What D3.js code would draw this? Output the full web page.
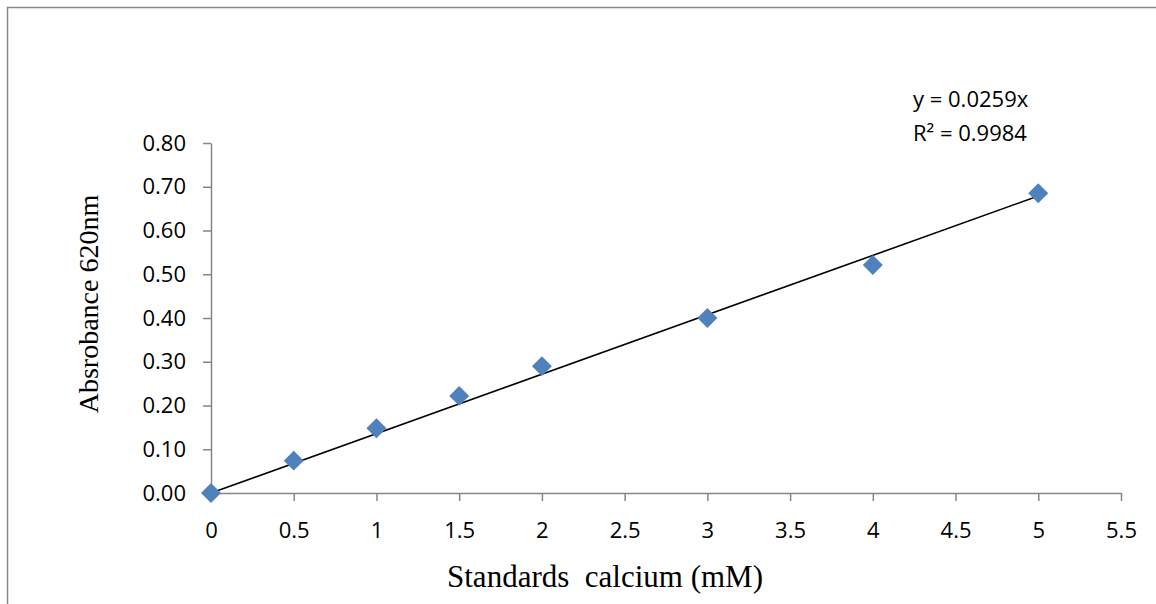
<!DOCTYPE html>
<html>
<head>
<meta charset="utf-8">
<script src="https://cdn.jsdelivr.net/npm/d3@7"></script>
<style>
  body { margin: 0; background: #fff; }
  svg { display: block; }
</style>
</head>
<body>
<svg width="1156" height="604"></svg>
<script>
// calcium standards (mM) and absorbance read at 620nm
var concentrations = [0, 0.5, 1, 1.5, 2, 3, 4, 5];
var absorbances = [0, 0.074, 0.148, 0.222, 0.290, 0.400, 0.521, 0.685];
var xTicks = [0, 0.5, 1, 1.5, 2, 2.5, 3, 3.5, 4, 4.5, 5, 5.5];
var yTicks = [0, 0.1, 0.2, 0.3, 0.4, 0.5, 0.6, 0.7, 0.8];
var equationLines = ["y = 0.0259x", "R\u00b2 = 0.9984"];

var points = concentrations.map(function(c, i) {
  return {conc: c, abs: absorbances[i]};
});

var svg = d3.select("svg");

// chart frame (only left and top edges fall inside the picture)
svg.append("rect")
    .attr("x", 7.5)
    .attr("y", 7.5)
    .attr("width", 1300)
    .attr("height", 800)
    .attr("fill", "none")
    .attr("stroke", "#898989")
    .attr("stroke-width", 1.5);

var x = d3.scaleLinear().domain([0, 5.5]).range([211, 1121]),
    y = d3.scaleLinear().domain([0, 0.8]).range([493, 143]);

var axisColor = "#868686";
var tickFont = "22px 'Open Sans', sans-serif";

var gx = svg.append("g")
    .attr("transform", "translate(0," + y(0) + ")")
    .call(d3.axisBottom(x)
      .tickValues(xTicks)
      .tickFormat(d3.format("~g"))
      .tickSizeInner(8)
      .tickSizeOuter(0)
      .tickPadding(21));

var gy = svg.append("g")
    .attr("transform", "translate(" + x(0) + ",0)")
    .call(d3.axisLeft(y)
      .tickValues(yTicks)
      .tickFormat(d3.format(".2f"))
      .tickSizeInner(8)
      .tickSizeOuter(0)
      .tickPadding(17));

[gx, gy].forEach(function(g) {
  g.select(".domain").attr("stroke", axisColor).attr("stroke-width", 1.5);
  g.selectAll(".tick line").attr("stroke", axisColor).attr("stroke-width", 1.5);
  g.selectAll(".tick text").style("font", tickFont).attr("fill", "#000");
});

// linear trendline through the origin (least squares)
var slope = d3.sum(points, function(d) { return d.conc * d.abs; }) /
            d3.sum(points, function(d) { return d.conc * d.conc; });
var xMax = d3.max(concentrations);

var line = d3.line()
    .x(function(d) { return x(d); })
    .y(function(d) { return y(slope * d); });

svg.append("path")
    .datum([0, xMax])
    .attr("d", line)
    .attr("fill", "none")
    .attr("stroke", "#000")
    .attr("stroke-width", 1.6);

svg.selectAll(".point")
  .data(points)
  .enter().append("path")
    .attr("class", "point")
    .attr("d", d3.symbol().type(d3.symbolSquare).size(200))
    .attr("transform", function(d) { return "translate(" + x(d.conc) + "," + y(d.abs) + ") rotate(45)"; })
    .attr("fill", "#4f81bd");

// trendline equation
svg.append("g")
    .selectAll("text")
    .data(equationLines)
  .enter().append("text")
    .attr("x", 913)
    .attr("y", function(d, i) { return 107 + i * 34; })
    .style("font", tickFont)
    .text(function(d) { return d; });

// axis titles
svg.append("text")
    .attr("x", 605)
    .attr("y", 587)
    .attr("text-anchor", "middle")
    .style("font", "31px 'Liberation Serif', 'Times New Roman', serif")
    .style("white-space", "pre")
    .text("Standards  calcium (mM)");

svg.append("text")
    .attr("transform", "translate(98,304) rotate(-90)")
    .attr("text-anchor", "middle")
    .style("font", "28px 'Liberation Serif', 'Times New Roman', serif")
    .text("Absrobance 620nm");
</script>
</body>
</html>
